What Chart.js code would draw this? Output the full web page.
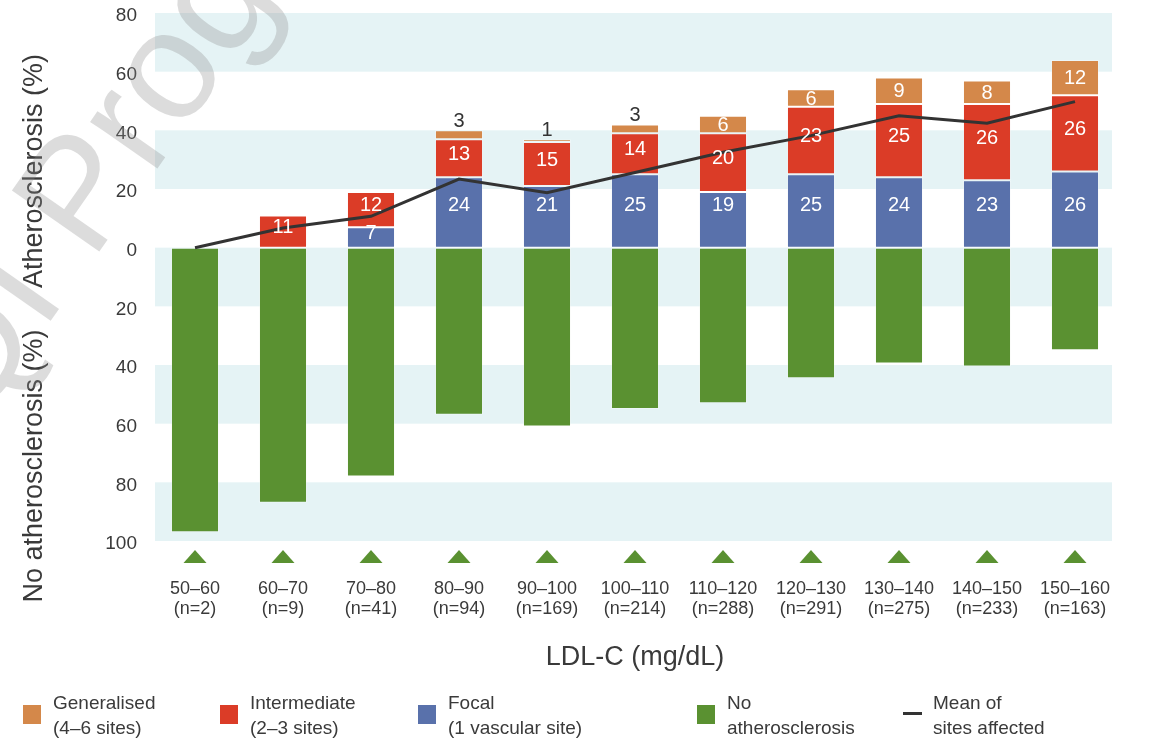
<!DOCTYPE html>
<html>
<head>
<meta charset="utf-8">
<script src="https://cdn.jsdelivr.net/npm/chart.js@4.4.1/dist/chart.umd.min.js"></script>
<style>
  html, body { margin: 0; padding: 0; background: #fff; }
  #wrap { width: 1155px; height: 741px; position: relative; }
</style>
</head>
<body>
<div id="wrap"><canvas id="chart" width="1155" height="741"></canvas></div>
<script>
// LDL-C bands and group sizes
const ldlRanges = ['50–60', '60–70', '70–80', '80–90', '90–100', '100–110', '110–120', '120–130', '130–140', '140–150', '150–160'];
const groupSizes = [2, 9, 41, 94, 169, 214, 288, 291, 275, 233, 163];

// Share of participants (%) by extent of atherosclerosis
const focal = [0, 0, 7, 24, 21, 25, 19, 25, 24, 23, 26];
const intermediate = [0, 11, 12, 13, 15, 14, 20, 23, 25, 26, 26];
const generalised = [0, 0, 0, 3, 1, 3, 6, 6, 9, 8, 12];
const noAtherosclerosis = [97, 87, 78, 57, 61, 55, 53, 44.5, 39.5, 40.5, 35];

// Mean number of vascular sites affected, on the chart's percent scale
const meanSitesAffected = [0, 6.7, 10.7, 23.4, 18.7, 25.6, 32.5, 38.2, 45, 42.4, 49.8];

// Value-axis ticks (shown as absolute values on both sides of zero)
const yTicks = [-100, -80, -60, -40, -20, 0, 20, 40, 60, 80];
const stripeBands = [[60, 80], [20, 40], [-20, 0], [-60, -40], [-100, -80]];

const COLORS = {
  generalised: '#D4884A',
  intermediate: '#DB3C27',
  focal: '#5971AB',
  none: '#5A9131',
  mean: '#333333',
  band: '#E5F3F5',
  text: '#3a3a3a'
};
const FONT = '"Liberation Sans", Arial, Helvetica, sans-serif';
Chart.defaults.font.family = FONT;
Chart.defaults.color = COLORS.text;

const categoryLabels = ldlRanges.map((r, i) => [r, '(n=' + groupSizes[i] + ')']);

// Alternating background stripes
const stripesPlugin = {
  id: 'stripes',
  beforeDatasetsDraw(chart) {
    const { ctx, chartArea } = chart;
    const y = chart.scales.y;
    ctx.save();
    ctx.fillStyle = COLORS.band;
    const x0 = chartArea.left + 4, x1 = chartArea.right - 7;
    stripeBands.forEach(([lo, hi]) => {
      const top = y.getPixelForValue(hi), bot = y.getPixelForValue(lo);
      ctx.fillRect(x0, top, x1 - x0, bot - top);
    });
    ctx.restore();
  }
};

// Value labels on the stacked segments
const valueLabelsPlugin = {
  id: 'valueLabels',
  afterDatasetsDraw(chart) {
    const { ctx } = chart;
    const yScale = chart.scales.y;
    ctx.save();
    ctx.font = '20px ' + FONT;
    ctx.textAlign = 'center';
    ctx.textBaseline = 'middle';
    [0, 1, 2].forEach(di => {
      const ds = chart.data.datasets[di];
      chart.getDatasetMeta(di).data.forEach((bar, i) => {
        const v = ds.data[i];
        if (!v) return;
        const { x, y, base } = bar.getProps(['x', 'y', 'base'], true);
        if (di === 2 && v <= 3) {
          ctx.fillStyle = '#333';
          ctx.fillText(String(v), x, y - 9);
        } else {
          let ty = (y + base) / 2 - 4;
          if (di === 0 && v > 15) ty = yScale.getPixelForValue(14.5);
          if (di === 2) ty = (y + base) / 2 + 1;
          ctx.fillStyle = '#ffffff';
          ctx.fillText(String(v), x, ty);
        }
      });
    });
    ctx.restore();
  }
};

// Triangle markers under each category, axis side titles, legend and watermark
const decorPlugin = {
  id: 'decor',
  afterDraw(chart) {
    const { ctx } = chart;
    const xScale = chart.scales.x;
    ctx.save();

    // triangles
    ctx.fillStyle = COLORS.none;
    ldlRanges.forEach((_, i) => {
      const cx = xScale.getPixelForValue(i);
      ctx.beginPath();
      ctx.moveTo(cx - 11.5, 563);
      ctx.lineTo(cx + 11.5, 563);
      ctx.lineTo(cx, 550);
      ctx.closePath();
      ctx.fill();
    });

    // side titles
    ctx.fillStyle = COLORS.text;
    ctx.font = '27px ' + FONT;
    ctx.textAlign = 'center';
    ctx.textBaseline = 'middle';
    [['Atherosclerosis (%)', 171], ['No atherosclerosis (%)', 466]].forEach(([t, cy]) => {
      ctx.save();
      ctx.translate(35, cy);
      ctx.rotate(-Math.PI / 2);
      ctx.fillText(t, 0, 0);
      ctx.restore();
    });

    // legend
    ctx.font = '19px ' + FONT;
    ctx.textAlign = 'left';
    const legendItems = [
      { color: COLORS.generalised, x: 23, tx: 53, lines: ['Generalised', '(4–6 sites)'] },
      { color: COLORS.intermediate, x: 220, tx: 250, lines: ['Intermediate', '(2–3 sites)'] },
      { color: COLORS.focal, x: 418, tx: 448, lines: ['Focal', '(1 vascular site)'] },
      { color: COLORS.none, x: 697, tx: 727, lines: ['No', 'atherosclerosis'] },
      { line: true, x: 903, tx: 933, lines: ['Mean of', 'sites affected'] }
    ];
    legendItems.forEach(it => {
      if (it.line) {
        ctx.fillStyle = COLORS.mean;
        ctx.fillRect(it.x, 712, 19, 3);
      } else {
        ctx.fillStyle = it.color;
        ctx.fillRect(it.x, 705, 18, 19);
      }
      ctx.fillStyle = COLORS.text;
      ctx.fillText(it.lines[0], it.tx, 704);
      ctx.fillText(it.lines[1], it.tx, 729);
    });

    // watermark
    ctx.save();
    ctx.translate(92, 262);
    ctx.rotate(-55 * Math.PI / 180);
    ctx.font = '155px ' + FONT;
    ctx.fillStyle = 'rgba(140,140,140,0.3)';
    ctx.textBaseline = 'alphabetic';
    ctx.textAlign = 'left';
    ctx.fillText('Progress', 0, 0);
    ctx.textAlign = 'right';
    ctx.fillText('QI ', 0, 0);
    ctx.restore();

    ctx.restore();
  }
};

const barCommon = {
  type: 'bar',
  stack: 'ath',
  categoryPercentage: 0.546,
  barPercentage: 1,
  borderWidth: 1,
  borderColor: 'rgba(255,255,255,0.3)',
  borderSkipped: false,
  order: 1
};

new Chart(document.getElementById('chart'), {
  data: {
    labels: categoryLabels,
    datasets: [
      Object.assign({}, barCommon, { label: 'Focal (1 vascular site)', data: focal, backgroundColor: COLORS.focal }),
      Object.assign({}, barCommon, { label: 'Intermediate (2–3 sites)', data: intermediate, backgroundColor: COLORS.intermediate }),
      Object.assign({}, barCommon, { label: 'Generalised (4–6 sites)', data: generalised, backgroundColor: COLORS.generalised }),
      Object.assign({}, barCommon, { label: 'No atherosclerosis', data: noAtherosclerosis.map(v => -v), backgroundColor: COLORS.none }),
      {
        type: 'line',
        label: 'Mean of sites affected',
        data: meanSitesAffected,
        stack: 'mean',
        borderColor: COLORS.mean,
        borderWidth: 3,
        pointRadius: 0,
        tension: 0,
        fill: false,
        order: 0
      }
    ]
  },
  options: {
    responsive: false,
    animation: false,
    layout: { padding: { left: 0, right: 36, top: 13, bottom: 60 } },
    plugins: { legend: { display: false }, tooltip: { enabled: false } },
    scales: {
      x: {
        stacked: true,
        offset: true,
        grid: { display: false, drawTicks: false },
        border: { display: false },
        ticks: {
          padding: 38,
          autoSkip: false,
          maxRotation: 0,
          color: COLORS.text,
          font: { size: 18, lineHeight: 1.1 }
        },
        title: {
          display: true,
          text: 'LDL-C (mg/dL)',
          color: COLORS.text,
          font: { size: 27 },
          padding: { top: 0, bottom: 7 }
        },
        afterFit(s) { s.height = 140; s.paddingLeft = 0; s.paddingRight = 0; }
      },
      y: {
        stacked: true,
        min: -100,
        max: 80,
        afterBuildTicks(s) { s.ticks = yTicks.map(v => ({ value: v })); },
        grid: { display: false, drawTicks: false },
        border: { display: false },
        ticks: {
          padding: 14,
          labelOffset: 3,
          color: COLORS.text,
          font: { size: 19 },
          callback: v => String(Math.abs(v))
        },
        afterFit(s) { s.width = 151; s.paddingTop = 0; s.paddingBottom = 0; }
      }
    }
  },
  plugins: [stripesPlugin, valueLabelsPlugin, decorPlugin]
});
</script>
</body>
</html>
